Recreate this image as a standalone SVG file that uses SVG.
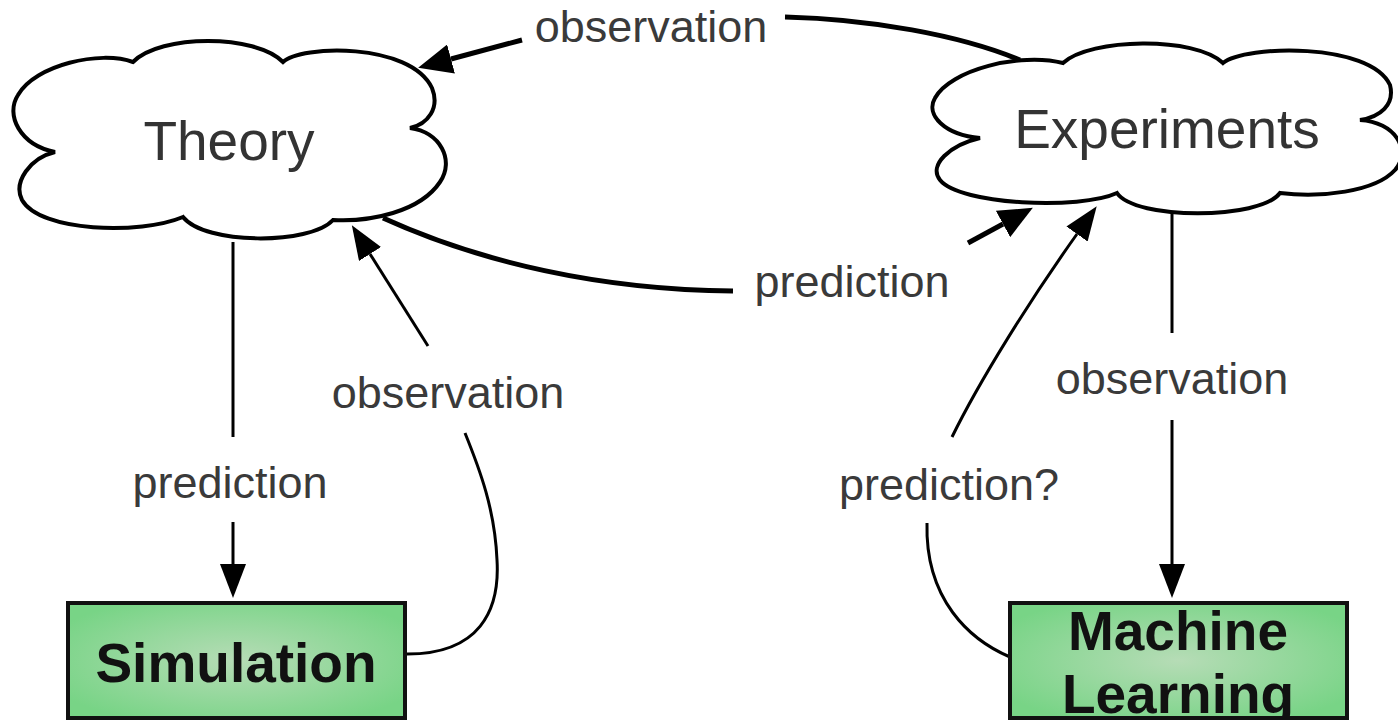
<svg xmlns="http://www.w3.org/2000/svg" width="1398" height="728" viewBox="0 0 1398 728">
  <style>
    .cloud { fill: #ffffff; stroke: #000; stroke-width: 4; stroke-linejoin: miter; }
    .cloudtext { font-family: "Liberation Sans", Arial, sans-serif; font-size: 55px; fill: #333; text-anchor: middle; }
    .box { stroke: #111; stroke-width: 4; fill: url(#green); }
    .boxtext { font-family: "Liberation Sans", Arial, sans-serif; font-size: 55px; font-weight: bold; fill: #111; text-anchor: middle; }
    .label { font-family: "Liberation Sans", Arial, sans-serif; font-size: 45px; fill: #3a3a3a; text-anchor: middle; }
    .thick { fill: none; stroke: #000; stroke-width: 5; }
    .thin { fill: none; stroke: #000; stroke-width: 3; }
  </style>
  <defs>
    <radialGradient id="green" cx="50%" cy="50%" r="60%">
      <stop offset="0" stop-color="#b6dcb6"/>
      <stop offset="1" stop-color="#78d486"/>
    </radialGradient>
    <marker id="bigArrow" markerUnits="userSpaceOnUse" viewBox="0 0 34 30" markerWidth="34" markerHeight="30" refX="0" refY="15" orient="auto">
      <path d="M0,0 L34,15 L0,30 Z" fill="#000"/>
    </marker>
    <marker id="smallArrow" markerUnits="userSpaceOnUse" viewBox="0 0 34 26" markerWidth="34" markerHeight="26" refX="0" refY="13" orient="auto">
      <path d="M0,0 L34,13 L0,26 Z" fill="#000"/>
    </marker>
    <clipPath id="mlclip">
      <rect x="1010" y="603" width="337" height="115"/>
    </clipPath>
  </defs>

  <g id="connectors">
    <!-- Experiments -> Theory observation (top) -->
    <path class="thick" d="M1020,60 C960,35 870,19 785,17"/>
    <path class="thick" d="M522,40 L451,59" marker-end="url(#bigArrow)"/>
    <text class="label" x="651" y="42">observation</text>
    <!-- Theory -> Experiments prediction -->
    <path class="thick" d="M383,218 C480,262 600,290 733,291"/>
    <path class="thick" d="M968,243 L1003,224" marker-end="url(#bigArrow)"/>
    <text class="label" x="852" y="297">prediction</text>
    <!-- Theory -> Simulation prediction -->
    <path class="thin" d="M233,242 L233,437"/>
    <path class="thin" d="M233,522 L233,564" marker-end="url(#smallArrow)"/>
    <text class="label" x="230" y="498">prediction</text>
    <!-- Simulation -> Theory observation -->
    <path class="thin" d="M405,654 C480,655 500,610 497,560 C495,510 480,470 465,433"/>
    <path class="thin" d="M428,346 L370,254" marker-end="url(#smallArrow)"/>
    <text class="label" x="448" y="408">observation</text>
    <!-- Experiments -> ML observation -->
    <path class="thin" d="M1172,213 L1172,333"/>
    <path class="thin" d="M1172,420 L1172,564" marker-end="url(#smallArrow)"/>
    <text class="label" x="1172" y="394">observation</text>
    <!-- ML -> Experiments prediction? -->
    <path class="thin" d="M1010,657 C970,640 925,600 927,523"/>
    <path class="thin" d="M952,437 C980,380 1030,300 1077,234" marker-end="url(#smallArrow)"/>
    <text class="label" x="949" y="500">prediction?</text>
  </g>

  <g id="theory">
    <path class="cloud" d="M133,62 C160,34 256,34 283,62 C300,45 410,42 432,88 C440,108 428,124 410,128 C440,132 455,160 440,182 C420,212 370,222 333,220 C310,245 205,245 183,217 C140,235 40,232 22,200 C13,182 30,158 55,152 C20,145 5,115 18,95 C35,65 100,50 133,62 Z"/>
    <text class="cloudtext" x="229" y="160">Theory</text>
  </g>

  <g id="experiments">
    <path class="cloud" d="M1063,63 C1090,38 1195,36 1223,63 C1245,45 1370,42 1390,85 C1395,105 1380,117 1360,120 C1395,122 1412,150 1395,170 C1375,192 1320,198 1280,193 C1260,220 1135,220 1117,193 C1080,210 960,205 940,180 C928,165 950,145 980,138 C945,135 925,115 935,98 C950,70 1020,52 1063,63 Z"/>
    <text class="cloudtext" x="1167" y="148">Experiments</text>
  </g>

  <g id="simulation">
    <rect class="box" x="68" y="603" width="337" height="115"/>
    <text class="boxtext" x="236" y="682">Simulation</text>
  </g>

  <g id="machine-learning">
    <rect class="box" x="1010" y="603" width="337" height="115"/>
    <g clip-path="url(#mlclip)">
      <text class="boxtext" x="1178" y="650">Machine</text>
      <text class="boxtext" x="1178" y="713">Learning</text>
    </g>
    <rect x="1010" y="603" width="337" height="115" fill="none" stroke="#111" stroke-width="4"/>
  </g>
</svg>
